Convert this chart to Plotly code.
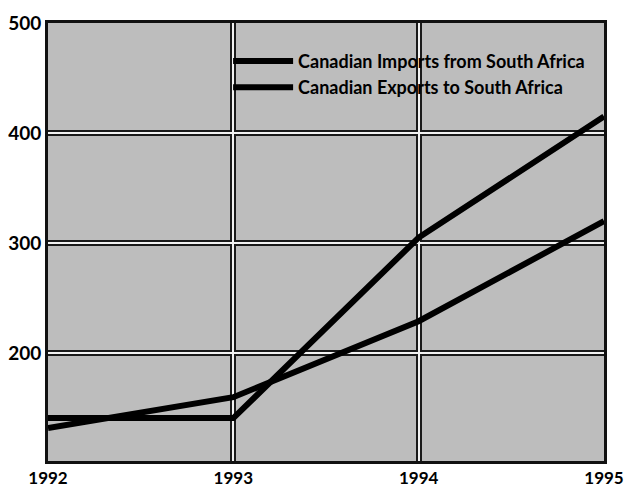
import plotly.graph_objects as go

years = [1992, 1993, 1994, 1995]
imports = [141, 141, 305, 415]
exports = [132, 160, 229, 320]

font = "Lato"

fig = go.Figure()
# invisible trace so the base axes (dark grid, frame, tick labels) get drawn
fig.add_trace(go.Scatter(x=years, y=imports, mode="lines", line=dict(color="rgba(0,0,0,0)"),
                         showlegend=False, hoverinfo="skip"))
fig.add_trace(go.Scatter(x=years, y=imports, mode="lines", name="Canadian Imports from South Africa",
                         line=dict(color="black", width=6), xaxis="x2", yaxis="y2"))
fig.add_trace(go.Scatter(x=years, y=exports, mode="lines", name="Canadian Exports to South Africa",
                         line=dict(color="black", width=6), xaxis="x2", yaxis="y2"))

axis_common = dict(showline=True, linecolor="#111", linewidth=3, mirror=True, zeroline=False,
                   ticks="", ticklen=0, automargin=False)

# page body has an 8px margin, so the figure is a bit smaller than the window
fig.update_layout(
    width=624, height=482,
    margin=dict(l=40, r=28, t=15, b=29),
    paper_bgcolor="white",
    plot_bgcolor="#bdbdbd",
    font=dict(family=font, color="black", size=16),
    xaxis=dict(range=[1992, 1995], tickvals=years, showgrid=True, gridcolor="#1a1a1a", gridwidth=6,
               tickfont=dict(size=17, family=font, weight="bold"), ticklabelstandoff=0, **axis_common),
    yaxis=dict(range=[102, 500], tickvals=[200, 300, 400, 500], showgrid=True, gridcolor="#1a1a1a", gridwidth=6,
               tickfont=dict(size=19, family=font, weight="bold"), **axis_common),
    xaxis2=dict(overlaying="x", range=[1992, 1995], tickvals=years, showgrid=True, automargin=False,
                gridcolor="#f2f2f2", gridwidth=2, showticklabels=False, zeroline=False, showline=False),
    yaxis2=dict(overlaying="y", range=[102, 500], tickvals=[200, 300, 400, 500], showgrid=True, automargin=False,
                gridcolor="#f2f2f2", gridwidth=2, showticklabels=False, zeroline=False, showline=False),
    legend=dict(x=0.975, y=0.955, xanchor="right", yanchor="top", bgcolor="rgba(0,0,0,0)",
                font=dict(size=18, family=font, weight="bold"), tracegroupgap=0, itemwidth=60),
    showlegend=True,
)

fig.write_html("out.html")
